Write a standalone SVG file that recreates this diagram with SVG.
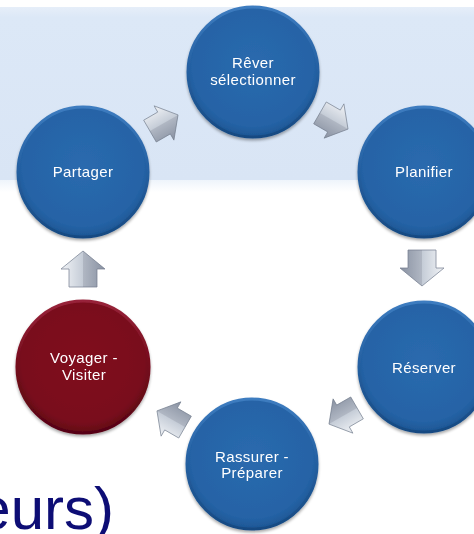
<svg xmlns="http://www.w3.org/2000/svg" width="474" height="534" viewBox="0 0 474 534">
  <defs>
    <linearGradient id="band" x1="0" y1="0" x2="0" y2="1">
      <stop offset="0" stop-color="#e6eef9"/>
      <stop offset="0.06" stop-color="#dce8f7"/>
      <stop offset="1" stop-color="#d9e5f5"/>
    </linearGradient>
    <linearGradient id="fade" x1="0" y1="0" x2="0" y2="1">
      <stop offset="0" stop-color="#eef4fb"/>
      <stop offset="1" stop-color="#ffffff"/>
    </linearGradient>
    <radialGradient id="blue" cx="0.5" cy="0.45" r="0.55">
      <stop offset="0" stop-color="#2a6aae"/>
      <stop offset="0.85" stop-color="#2563a6"/>
      <stop offset="1" stop-color="#1d5694"/>
    </radialGradient>
    <radialGradient id="red" cx="0.5" cy="0.45" r="0.55">
      <stop offset="0" stop-color="#800c1f"/>
      <stop offset="0.85" stop-color="#790a1c"/>
      <stop offset="1" stop-color="#620716"/>
    </radialGradient>
    <linearGradient id="rimBlue" x1="0" y1="0" x2="0" y2="1">
      <stop offset="0" stop-color="#3d7cc0"/>
      <stop offset="0.5" stop-color="#245fa0"/>
      <stop offset="1" stop-color="#174a82"/>
    </linearGradient>
    <linearGradient id="rimRed" x1="0" y1="0" x2="0" y2="1">
      <stop offset="0" stop-color="#98243a"/>
      <stop offset="0.5" stop-color="#740a1b"/>
      <stop offset="1" stop-color="#560512"/>
    </linearGradient>
    <linearGradient id="arrowFill" x1="0" y1="0" x2="0" y2="1">
      <stop offset="0" stop-color="#f2f4f7"/>
      <stop offset="0.45" stop-color="#c9d0da"/>
      <stop offset="1" stop-color="#959eae"/>
    </linearGradient>
    <filter id="sh" x="-20%" y="-20%" width="140%" height="140%">
      <feGaussianBlur in="SourceAlpha" stdDeviation="1.5"/>
      <feOffset dx="0" dy="1.5" result="b"/>
      <feComponentTransfer><feFuncA type="linear" slope="0.35"/></feComponentTransfer>
      <feMerge><feMergeNode/><feMergeNode in="SourceGraphic"/></feMerge>
    </filter>
    <path id="arr" d="M-18,-14 L0,-14 L0,-22 L18,0 L0,22 L0,14 L-18,14 Z"/>
  </defs>
  <style>
    .lbl { font-family: "Liberation Sans", Arial, sans-serif; font-size: 15px; fill: #ffffff; text-anchor: middle; letter-spacing: 0.4px; }
    .cb { fill: url(#blue); stroke: url(#rimBlue); stroke-width: 3; }
    .cr { fill: url(#red); stroke: url(#rimRed); stroke-width: 3; }
    .ar { fill: url(#arrowFill); stroke: #808999; stroke-width: 0.8; }
    .facet { fill: #4a5263; opacity: 0.16; }
  </style>

  <!-- background -->
  <rect x="0" y="0" width="474" height="534" fill="#ffffff"/>
  <rect x="0" y="7" width="474" height="173" fill="url(#band)"/>
  <rect x="0" y="180" width="474" height="12" fill="url(#fade)"/>

  <!-- partial title text -->
  <text x="114" y="529" font-family="'Liberation Sans', Arial, sans-serif" font-size="60" fill="#0d0d75" text-anchor="end">eurs)</text>

  <!-- connectors -->
  <g id="connectors">
    <g transform="translate(164,123) rotate(-30) scale(0.9)">
      <use href="#arr" class="ar"/>
      <path class="facet" d="M-18,0 L18,0 L0,22 L0,14 L-18,14 Z"/>
    </g>
    <g transform="translate(334,121) rotate(30) scale(0.9)">
      <use href="#arr" class="ar"/>
      <path class="facet" d="M-18,0 L18,0 L0,22 L0,14 L-18,14 Z"/>
    </g>
    <g transform="translate(422,268) rotate(90)">
      <use href="#arr" class="ar"/>
      <path class="facet" d="M-18,0 L18,0 L0,22 L0,14 L-18,14 Z"/>
    </g>
    <g transform="translate(343,416) rotate(150) scale(0.9)">
      <use href="#arr" class="ar"/>
      <path class="facet" d="M-18,0 L18,0 L0,22 L0,14 L-18,14 Z"/>
    </g>
    <g transform="translate(171,419) rotate(-150) scale(0.9)">
      <use href="#arr" class="ar"/>
      <path class="facet" d="M-18,0 L18,0 L0,22 L0,14 L-18,14 Z"/>
    </g>
    <g transform="translate(83,269) rotate(-90)">
      <use href="#arr" class="ar"/>
      <path class="facet" d="M-18,0 L18,0 L0,22 L0,14 L-18,14 Z"/>
    </g>
  </g>

  <!-- nodes -->
  <g id="node-rever" filter="url(#sh)">
    <circle class="cb" cx="253" cy="72" r="65"/>
    <text class="lbl" x="253" y="68">Rêver</text>
    <text class="lbl" x="253" y="85">sélectionner</text>
  </g>
  <g id="node-planifier" filter="url(#sh)">
    <circle class="cb" cx="424" cy="172" r="65"/>
    <text class="lbl" x="424" y="177">Planifier</text>
  </g>
  <g id="node-reserver" filter="url(#sh)">
    <circle class="cb" cx="424" cy="367" r="65"/>
    <text class="lbl" x="424" y="373">Réserver</text>
  </g>
  <g id="node-rassurer" filter="url(#sh)">
    <circle class="cb" cx="252" cy="464" r="65"/>
    <text class="lbl" x="252" y="462">Rassurer -</text>
    <text class="lbl" x="252" y="478">Préparer</text>
  </g>
  <g id="node-voyager" filter="url(#sh)">
    <circle class="cr" cx="83" cy="367" r="66"/>
    <text class="lbl" x="84" y="363">Voyager -</text>
    <text class="lbl" x="84" y="380">Visiter</text>
  </g>
  <g id="node-partager" filter="url(#sh)">
    <circle class="cb" cx="83" cy="172" r="65"/>
    <text class="lbl" x="83" y="177">Partager</text>
  </g>
</svg>
